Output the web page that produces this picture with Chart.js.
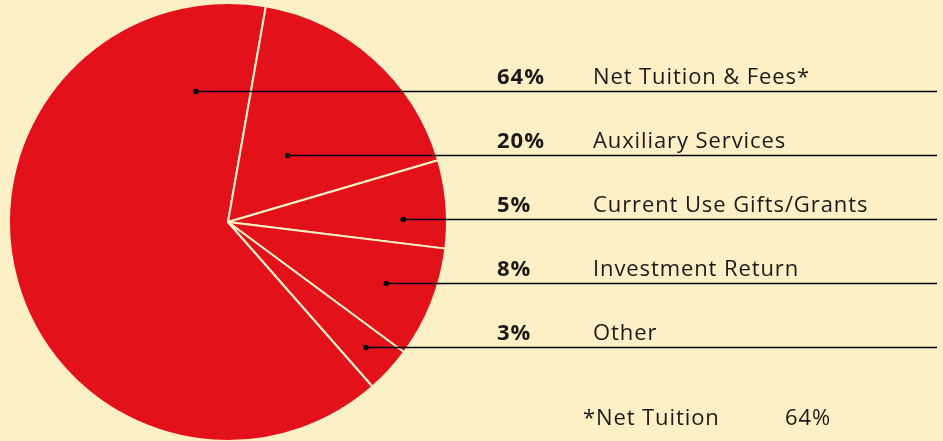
<!DOCTYPE html>
<html>
<head>
<meta charset="utf-8">
<script src="https://cdn.jsdelivr.net/npm/chart.js@4.4.1/dist/chart.umd.min.js"></script>
<style>
  html, body { margin: 0; padding: 0; background: #fef0c6; overflow: hidden; }
  canvas { display: block; }
</style>
</head>
<body>
<canvas id="pie" width="943" height="442"></canvas>
<script>
// revenue sources
const categories = ['Net Tuition & Fees*', 'Auxiliary Services', 'Current Use Gifts/Grants', 'Investment Return', 'Other'];
const percentLabels = ['64%', '20%', '5%', '8%', '3%'];
// slice sizes as drawn in the picture (the artwork does not follow the labels exactly)
const sliceValues = [64.3, 17.7, 6.5, 8.2, 3.4];
const footnoteLabel = '*Net Tuition';
const footnoteValue = '64%';

// where each leader line starts, relative to the pie centre (in radii)
const dotOffsets = [[-0.147, -0.597], [0.273, -0.305], [0.800, -0.012], [0.723, 0.280], [0.630, 0.572]];

const RED = '#e3111a';
const CREAM = '#fef0c6';
const INK = '#1c1a17';
const FONT = '"Open Sans", "Lato", sans-serif';

// üìå leader lines, dots and texts
const calloutPlugin = {
    id: 'callouts',
    afterDraw(chart) {
        const arc = chart.getDatasetMeta(0).data[0];
        if (!arc) return;
        const cx = arc.x, cy = arc.y, r = arc.outerRadius;
        const ctx = chart.ctx;
        ctx.save();
        categories.forEach((name, i) => {
            const dx = cx + dotOffsets[i][0] * r;
            const dy = Math.round(cy + dotOffsets[i][1] * r) + 0.5;
            ctx.strokeStyle = '#000';
            ctx.lineWidth = 1.3;
            ctx.beginPath();
            ctx.moveTo(dx, dy);
            ctx.lineTo(937, dy);
            ctx.stroke();
            ctx.fillStyle = '#000';
            ctx.beginPath();
            ctx.arc(dx, dy, 2.8, 0, Math.PI * 2);
            ctx.fill();
            ctx.fillStyle = INK;
            ctx.textBaseline = 'alphabetic';
            ctx.letterSpacing = '1px';
            ctx.font = `bold 22px ${FONT}`;
            ctx.fillText(percentLabels[i], 497, dy - 8);
            ctx.letterSpacing = '0.9px';
            ctx.font = `22px ${FONT}`;
            ctx.fillText(name, 593, dy - 8);
        });
        ctx.letterSpacing = '0.9px';
        ctx.font = `22px ${FONT}`;
        ctx.fillText(footnoteLabel, 583, 425);
        ctx.fillText(footnoteValue, 785, 425);
        ctx.restore();
    }
};

new Chart(document.getElementById('pie').getContext('2d'), {
    type: 'pie',
    data: {
        labels: categories,
        datasets: [{
            data: sliceValues,
            backgroundColor: RED,
            borderColor: CREAM,
            borderWidth: 2
        }]
    },
    options: {
        responsive: false,
        animation: false,
        rotation: 138.7,
        layout: { padding: { left: 8, top: 2, right: 495, bottom: 0 } },
        events: [],
        plugins: { legend: { display: false }, tooltip: { enabled: false } }
    },
    plugins: [calloutPlugin]
});
</script>
</body>
</html>
